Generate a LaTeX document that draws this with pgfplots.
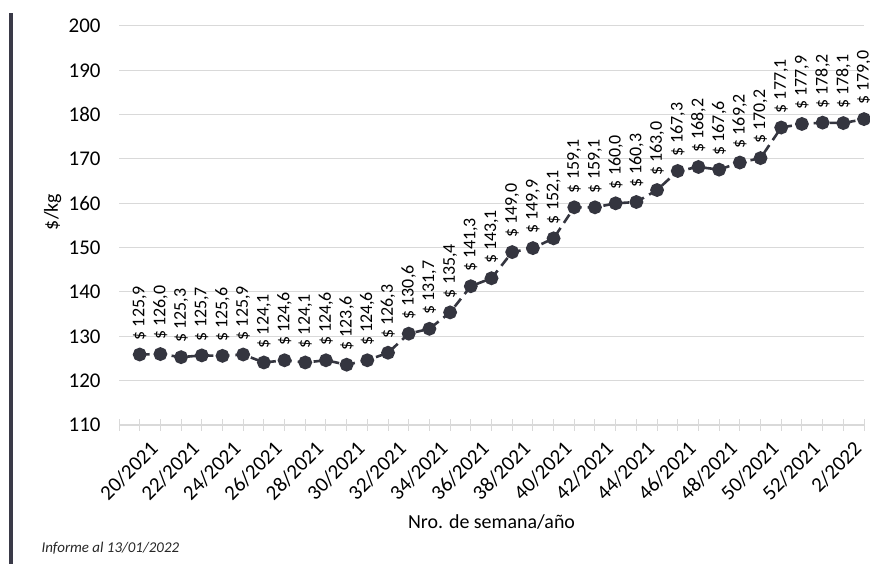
\documentclass[border=0pt]{standalone}
\usepackage{fontspec}
\setmainfont{Carlito}
\usepackage{pgfplots}
\pgfplotsset{compat=1.18}
\usepackage{pgfplotstable}

\definecolor{serie}{HTML}{34353F}
\definecolor{grilla}{HTML}{D9D9D9}
\definecolor{barra}{HTML}{3A3A48}

% precio semanal ($/kg)
\pgfplotstableread{
x y
0 125.9
1 126.0
2 125.3
3 125.7
4 125.6
5 125.9
6 124.1
7 124.6
8 124.1
9 124.6
10 123.6
11 124.6
12 126.3
13 130.6
14 131.7
15 135.4
16 141.3
17 143.1
18 149.0
19 149.9
20 152.1
21 159.1
22 159.1
23 160.0
24 160.3
25 163.0
26 167.3
27 168.2
28 167.6
29 169.2
30 170.2
31 177.1
32 177.9
33 178.2
34 178.1
35 179.0
}\precio

\begin{document}
\begin{tikzpicture}
\useasboundingbox (0,0) rectangle (870bp,564bp);
\fill[barra] (9bp,0) rectangle (13bp,551bp);
\begin{axis}[
    at={(119bp,139bp)}, anchor=south west,
    scale only axis, width=745bp, height=399bp,
    xmin=-1, xmax=35, ymin=110, ymax=200,
    ytick={110,120,...,200},
    xtick={-1,...,35},
    xticklabels={,20/2021,,22/2021,,24/2021,,26/2021,,28/2021,,30/2021,,32/2021,,34/2021,,36/2021,,38/2021,,40/2021,,42/2021,,44/2021,,46/2021,,48/2021,,50/2021,,52/2021,,2/2022,},
    axis x line*=bottom, axis y line*=left,
    y axis line style={draw=none},
    x axis line style={grilla, line width=1.2bp, -},
    ytick style={draw=none},
    xtick style={grilla, line width=1bp},
    xtick align=center, major tick length=12bp,
    ymajorgrids, grid style={grilla, line width=1bp},
    /pgf/number format/assume math mode=true,
    tick label style={font=\fontsize{21}{24}\selectfont, text=black},
    yticklabel style={xshift=-15bp},
    xticklabel style={xshift=17bp, yshift=-12bp, rotate=45, anchor=east},
    xlabel={Nro. de semana/año},
    ylabel={\$/kg},
    label style={font=\fontsize{20}{24}\selectfont},
    xlabel style={at={(axis description cs:0.5,-0.243)}, anchor=center},
    ylabel style={at={(axis description cs:-0.089,0.534)}, anchor=center, rotate=0},
    clip=false,
]
\addplot[serie, line width=2.6bp, dash pattern=on 10bp off 6bp,
    mark=*, mark size=5.6bp, mark options={solid, fill=serie, draw=serie},
    nodes near coords={\$ \pgfmathprintnumber[fixed, fixed zerofill, precision=1, use comma]{\pgfplotspointmeta}},
    nodes near coords style={font=\fontsize{18}{20}\selectfont, text=black, inner sep=0pt, yshift=13bp, rotate=90, anchor=west},
    point meta=y] table[x=x, y=y] {\precio};
\end{axis}
\node[anchor=base west, font=\fontsize{15}{18}\selectfont\itshape, text=black!85] at (38bp,12bp) {Informe al 13/01/2022};
\end{tikzpicture}
\end{document}
